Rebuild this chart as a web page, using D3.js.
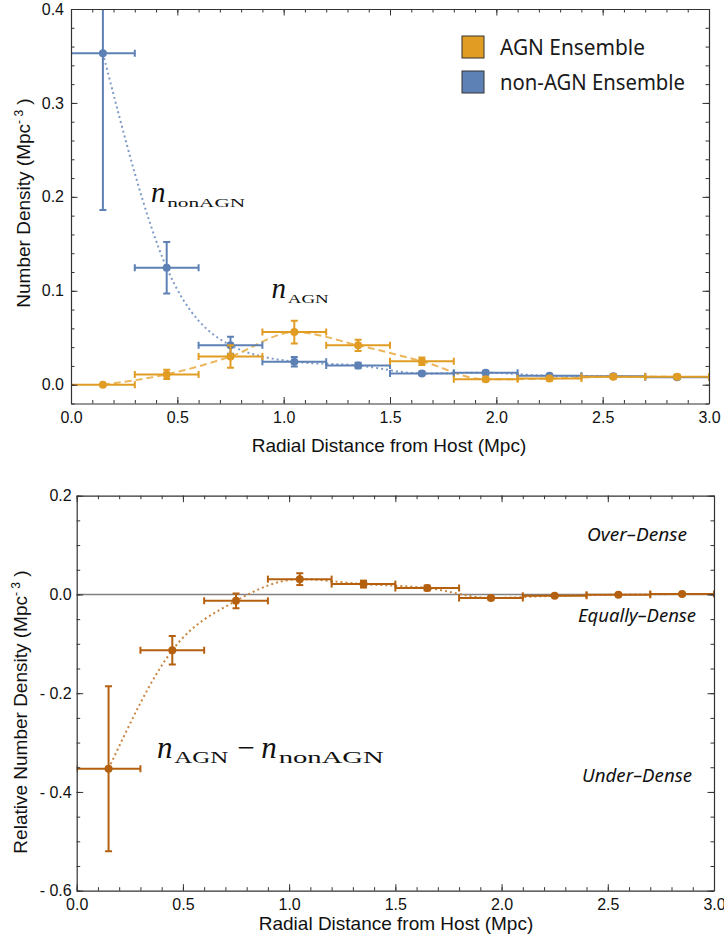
<!DOCTYPE html>
<html>
<head>
<meta charset="utf-8">
<script src="https://cdn.jsdelivr.net/npm/d3@7"></script>
<style>
  body { margin: 0; background: #fff; }
  text { font-family: "Liberation Sans", Arial, sans-serif; }
</style>
</head>
<body>
<div class="chart"></div>
<script>
// bin centres in Mpc (every bin is 0.3 Mpc wide)
var binCenters = [0.15, 0.45, 0.75, 1.05, 1.35, 1.65, 1.95, 2.25, 2.55, 2.85];
var binHalfWidth = 0.15;

// top panel: number densities (Mpc^-3) with errors
var agnDensity    = [0.000, 0.011, 0.030, 0.056, 0.042, 0.025, 0.0057, 0.0065, 0.0085, 0.0085];
var agnError      = [0.000, 0.005, 0.012, 0.012, 0.006, 0.004, 0.002, 0.002, 0.002, 0.002];
var nonAgnDensity = [0.353, 0.1245, 0.042, 0.0245, 0.0205, 0.012, 0.0128, 0.0095, 0.009, 0.008];
var nonAgnError   = [0.167, 0.0275, 0.009, 0.005, 0.003, 0.002, 0.002, 0.002, 0.002, 0.002];

// bottom panel: AGN minus non-AGN
var diffDensity = [-0.353, -0.113, -0.013, 0.031, 0.021, 0.013, -0.0073, -0.0027, -0.0006, 0.001];
var diffError   = [0.167, 0.029, 0.015, 0.012, 0.007, 0.005, 0.003, 0.002, 0.002, 0.002];

// tick labels
var xTickValues = [0, 0.5, 1, 1.5, 2, 2.5, 3];
var xTickLabels = ["0.0", "0.5", "1.0", "1.5", "2.0", "2.5", "3.0"];
var topYTickValues = [0, 0.1, 0.2, 0.3, 0.4];
var topYTickLabels = ["0.0", "0.1", "0.2", "0.3", "0.4"];
var bottomYTickValues = [-0.6, -0.4, -0.2, 0, 0.2];
var bottomYTickLabels = ["- 0.6", "- 0.4", "- 0.2", "0.0", "0.2"];

var legendLabels = ["AGN Ensemble", "non-AGN Ensemble"];
var regionLabels = ["Over\u2013Dense", "Equally\u2013Dense", "Under\u2013Dense"];

var orange = "#e19c24";
var blue = "#5e81b5";
var brown = "#b5600f";
var frameColor = "#333";

var svg = d3.select(".chart").append("svg")
  .attr("width", 724)
  .attr("height", 947);

// zip helper
function pointsOf(vals, errs) {
  return binCenters.map(function(c, i) { return { x: c, y: vals[i], e: errs[i] }; });
}

// draws a Mathematica style frame with inward ticks on all four sides
function drawFrame(g, x, y, yTickValues, yTickLabels, yMinorStep, labelPad) {
  var left = x.range()[0], right = x.range()[1];
  var bottom = y.range()[0], top = y.range()[1];
  var xd = x.domain(), yd = y.domain();
  var xMinor = d3.range(xd[0], xd[1] + 1e-9, 0.1);
  var yStart = Math.ceil(yd[0] / yMinorStep - 1e-9) * yMinorStep;
  var yMinor = d3.range(yStart, yd[1] + 1e-9, yMinorStep);

  function fmt(values, labels) {
    return function(d) {
      var i = values.findIndex(function(v) { return Math.abs(v - d) < 1e-9; });
      return i < 0 ? "" : labels[i];
    };
  }

  var axes = [
    { gen: d3.axisBottom(x), t: "translate(0," + bottom + ")", major: xTickValues, minor: xMinor, labels: xTickLabels, pad: 8 },
    { gen: d3.axisTop(x), t: "translate(0," + top + ")", major: xTickValues, minor: xMinor },
    { gen: d3.axisLeft(y), t: "translate(" + left + ",0)", major: yTickValues, minor: yMinor, labels: yTickLabels, pad: labelPad },
    { gen: d3.axisRight(y), t: "translate(" + right + ",0)", major: yTickValues, minor: yMinor }
  ];

  axes.forEach(function(a) {
    // minor ticks + frame line
    g.append("g")
      .attr("transform", a.t)
      .call(a.gen.tickValues(a.minor).tickSizeInner(-3.5).tickSizeOuter(0).tickFormat(""))
      .call(function(s) {
        s.select(".domain").attr("stroke", frameColor).attr("stroke-width", 1.2);
        s.selectAll(".tick line").attr("stroke", frameColor);
      });
    // major ticks (+ labels)
    var ag = g.append("g")
      .attr("transform", a.t)
      .call(a.gen.tickValues(a.major).tickSizeInner(-6.5).tickSizeOuter(0)
        .tickPadding(a.labels ? a.pad : 0)
        .tickFormat(a.labels ? fmt(a.major, a.labels) : ""));
    ag.select(".domain").remove();
    ag.selectAll(".tick line").attr("stroke", frameColor);
    ag.selectAll(".tick text")
      .attr("fill", "#111")
      .style("font-size", "16px")
      .style("font-family", "'Liberation Sans', Arial, sans-serif");
  });
}

// error bars with end caps, plus the point
function drawErrorBars(g, x, y, pts, color) {
  var cap = 3.5;
  var grp = g.append("g").attr("stroke", color).attr("stroke-width", 2).attr("fill", color);

  grp.selectAll(".hbar").data(pts).enter().append("line")
    .attr("x1", d => x(d.x - binHalfWidth)).attr("x2", d => x(d.x + binHalfWidth))
    .attr("y1", d => y(d.y)).attr("y2", d => y(d.y));
  grp.selectAll(".hcapL").data(pts).enter().append("line")
    .attr("x1", d => x(d.x - binHalfWidth)).attr("x2", d => x(d.x - binHalfWidth))
    .attr("y1", d => y(d.y) - cap).attr("y2", d => y(d.y) + cap);
  grp.selectAll(".hcapR").data(pts).enter().append("line")
    .attr("x1", d => x(d.x + binHalfWidth)).attr("x2", d => x(d.x + binHalfWidth))
    .attr("y1", d => y(d.y) - cap).attr("y2", d => y(d.y) + cap);

  var withErr = pts.filter(d => d.e > 0);
  grp.selectAll(".vbar").data(withErr).enter().append("line")
    .attr("x1", d => x(d.x)).attr("x2", d => x(d.x))
    .attr("y1", d => y(d.y - d.e)).attr("y2", d => y(d.y + d.e));
  grp.selectAll(".vcapT").data(withErr).enter().append("line")
    .attr("x1", d => x(d.x) - cap).attr("x2", d => x(d.x) + cap)
    .attr("y1", d => y(d.y + d.e)).attr("y2", d => y(d.y + d.e));
  grp.selectAll(".vcapB").data(withErr).enter().append("line")
    .attr("x1", d => x(d.x) - cap).attr("x2", d => x(d.x) + cap)
    .attr("y1", d => y(d.y - d.e)).attr("y2", d => y(d.y - d.e));

  grp.selectAll("circle").data(pts).enter().append("circle")
    .attr("cx", d => x(d.x)).attr("cy", d => y(d.y))
    .attr("r", 4).attr("stroke", "none");
}

// n_sub style math labels
function mathLabel(g, px, py, parts, nSize, subSize) {
  var cx = px;
  parts.forEach(function(p) {
    if (p.type === "n") {
      g.append("text").attr("x", cx).attr("y", py)
        .style("font-family", "'Liberation Serif', 'DejaVu Serif', serif")
        .style("font-style", "italic").style("font-size", nSize + "px")
        .attr("fill", "#111").text("n");
      cx += nSize * 0.56;
    } else if (p.type === "sub") {
      g.append("text").attr("x", cx).attr("y", py + 5)
        .style("font-family", "'Liberation Serif', 'DejaVu Serif', serif")
        .style("font-size", subSize + "px")
        .attr("textLength", p.w).attr("lengthAdjust", "spacingAndGlyphs")
        .attr("fill", "#111").text(p.text);
      cx += p.w;
    } else {
      g.append("text").attr("x", cx + p.gap).attr("y", py)
        .style("font-family", "'Liberation Serif', 'DejaVu Serif', serif")
        .style("font-size", nSize + "px")
        .attr("fill", "#111").text("\u2212");
      cx += p.w;
    }
  });
}

// ---------- top panel ----------
var xTop = d3.scaleLinear().domain([0, 3]).range([71, 709]);
var yTop = d3.scaleLinear().domain([-0.02, 0.4]).range([403.5, 9]);

svg.append("clipPath").attr("id", "clipTop").append("rect")
  .attr("x", 71).attr("y", 9).attr("width", 638).attr("height", 394.5);

var topData = svg.append("g").attr("clip-path", "url(#clipTop)");

var curveLine = d3.line().curve(d3.curveMonotoneX);

topData.append("path")
  .attr("d", curveLine(binCenters.map((c, i) => [xTop(c), yTop(nonAgnDensity[i])])))
  .attr("fill", "none").attr("stroke", "#7f9cc8").attr("stroke-width", 2)
  .attr("stroke-dasharray", "2,3");

topData.append("path")
  .attr("d", curveLine(binCenters.map((c, i) => [xTop(c), yTop(agnDensity[i])])))
  .attr("fill", "none").attr("stroke", "#ebb65a").attr("stroke-width", 2)
  .attr("stroke-dasharray", "7,4");

drawErrorBars(topData, xTop, yTop, pointsOf(nonAgnDensity, nonAgnError), blue);
drawErrorBars(topData, xTop, yTop, pointsOf(agnDensity, agnError), orange);

drawFrame(svg.append("g"), xTop, yTop, topYTickValues, topYTickLabels, 0.02, 7);

// axis titles
svg.append("text").attr("x", 389).attr("y", 452)
  .attr("text-anchor", "middle").style("font-size", "19px").attr("fill", "#111")
  .text("Radial Distance from Host (Mpc)");

var yt1 = svg.append("text").attr("transform", "translate(30,203) rotate(-90)")
  .attr("text-anchor", "middle").style("font-size", "19px").attr("fill", "#111");
yt1.append("tspan").text("Number Density (Mpc");
yt1.append("tspan").attr("dy", -7).style("font-size", "12px").text("- 3");
yt1.append("tspan").attr("dy", 7).text(" )");

// legend
var legendColors = [orange, blue];
legendLabels.forEach(function(label, i) {
  svg.append("rect").attr("x", 462).attr("y", 36 + i * 35)
    .attr("width", 22).attr("height", 22)
    .attr("fill", legendColors[i]).attr("stroke", "#333").attr("stroke-width", 1);
  svg.append("text").attr("x", 500).attr("y", 55 + i * 35)
    .style("font-family", "'Noto Sans', Lato, sans-serif").style("font-size", "21px")
    .attr("textLength", i === 0 ? 145 : 185).attr("lengthAdjust", "spacingAndGlyphs")
    .attr("fill", "#1a1a1a").text(label);
});

mathLabel(svg, xTop(0.376), yTop(0.195), [{ type: "n" }, { type: "sub", text: "nonAGN", w: 78 }], 29, 13);
mathLabel(svg, xTop(0.943), yTop(0.0925), [{ type: "n" }, { type: "sub", text: "AGN", w: 41 }], 29, 13);

// ---------- bottom panel ----------
var xBot = d3.scaleLinear().domain([0, 3]).range([76.7, 714]);
var yBot = d3.scaleLinear().domain([-0.6, 0.2]).range([890.7, 495.7]);

svg.append("clipPath").attr("id", "clipBot").append("rect")
  .attr("x", 76.7).attr("y", 495.7).attr("width", 637.3).attr("height", 395);

var botData = svg.append("g").attr("clip-path", "url(#clipBot)");

// zero line
botData.append("line")
  .attr("x1", xBot(0)).attr("x2", xBot(3))
  .attr("y1", yBot(0)).attr("y2", yBot(0))
  .attr("stroke", "#808080").attr("stroke-width", 1.5);

botData.append("path")
  .attr("d", curveLine(binCenters.map((c, i) => [xBot(c), yBot(diffDensity[i])])))
  .attr("fill", "none").attr("stroke", "#c98540").attr("stroke-width", 2)
  .attr("stroke-dasharray", "2,3");

drawErrorBars(botData, xBot, yBot, pointsOf(diffDensity, diffError), brown);

drawFrame(svg.append("g"), xBot, yBot, bottomYTickValues, bottomYTickLabels, 0.05, 5);

svg.append("text").attr("x", 396).attr("y", 930)
  .attr("text-anchor", "middle").style("font-size", "19px").attr("fill", "#111")
  .text("Radial Distance from Host (Mpc)");

var yt2 = svg.append("text").attr("transform", "translate(27,712) rotate(-90)")
  .attr("text-anchor", "middle").style("font-size", "19px").attr("fill", "#111");
yt2.append("tspan").text("Relative Number Density (Mpc");
yt2.append("tspan").attr("dy", -7).style("font-size", "12px").text("- 3");
yt2.append("tspan").attr("dy", 7).text(" )");

// region annotations
var regionY = [0.109, -0.0567, -0.379];
var regionW = [100, 118, 110];
regionLabels.forEach(function(label, i) {
  svg.append("text").attr("x", xBot(2.638)).attr("y", yBot(regionY[i]))
    .attr("text-anchor", "middle")
    .style("font-family", "'Noto Sans', Lato, sans-serif")
    .style("font-style", "italic").style("font-size", "18px")
    .attr("textLength", regionW[i]).attr("lengthAdjust", "spacingAndGlyphs")
    .attr("fill", "#111").text(label);
});

mathLabel(svg, xBot(0.378), yBot(-0.331), [
  { type: "n" }, { type: "sub", text: "AGN", w: 54 },
  { type: "minus", gap: 9, w: 33 },
  { type: "n" }, { type: "sub", text: "nonAGN", w: 105 }
], 31, 16);
</script>
</body>
</html>
